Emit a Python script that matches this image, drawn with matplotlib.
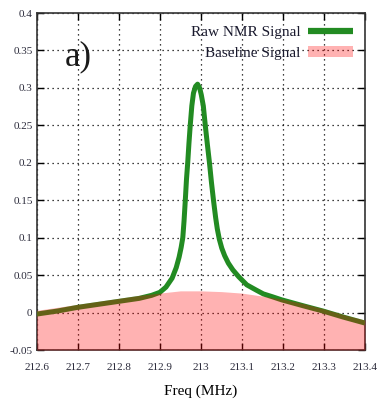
import numpy as np
import matplotlib
matplotlib.use('Agg')
import matplotlib.pyplot as plt

# Raw NMR signal, read point by point (freq in MHz, signal)
raw_freq = [212.600, 212.650, 212.700, 212.750, 212.800, 212.850, 212.880, 212.900,
            212.915, 212.930, 212.940, 212.947, 212.952, 212.956, 212.959, 212.962,
            212.965, 212.968, 212.971, 212.974, 212.978, 212.982, 212.987, 212.992,
            212.997, 213.001, 213.006, 213.011, 213.016, 213.021, 213.026, 213.031,
            213.036, 213.040, 213.045, 213.051, 213.058, 213.067, 213.078, 213.092,
            213.112, 213.135, 213.152, 213.175, 213.197, 213.250, 213.298, 213.347,
            213.400]
raw_signal = [-0.002, 0.002, 0.007, 0.011, 0.015, 0.019, 0.023, 0.027,
              0.034, 0.046, 0.060, 0.074, 0.087, 0.100, 0.122, 0.149,
              0.178, 0.200, 0.226, 0.249, 0.276, 0.293, 0.302, 0.305,
              0.300, 0.291, 0.276, 0.249, 0.224, 0.200, 0.173, 0.149,
              0.127, 0.112, 0.098, 0.086, 0.076, 0.066, 0.057, 0.048,
              0.037, 0.030, 0.025, 0.021, 0.017, 0.009, 0.002, -0.006,
              -0.014]

# Baseline estimate
base_freq = [212.60, 212.65, 212.70, 212.75, 212.80, 212.85, 212.90, 212.95, 213.00,
             213.05, 213.10, 213.15, 213.20, 213.25, 213.30, 213.35, 213.40]
base_signal = [0.003, 0.007, 0.011, 0.015, 0.019, 0.023, 0.026, 0.029, 0.029,
               0.028, 0.026, 0.022, 0.018, 0.012, 0.005, -0.003, -0.010]

xticks = [212.6, 212.7, 212.8, 212.9, 213.0, 213.1, 213.2, 213.3, 213.4]
xticklabels = ['212.6', '212.7', '212.8', '212.9', '213', '213.1', '213.2', '213.3', '213.4']
yticks = [-0.05, 0, 0.05, 0.1, 0.15, 0.2, 0.25, 0.3, 0.35, 0.4]
yticklabels = ['-0.05', '0', '0.05', '0.1', '0.15', '0.2', '0.25', '0.3', '0.35', '0.4']

plt.rcParams['font.family'] = ['Liberation Serif', 'DejaVu Serif']

fig = plt.figure(figsize=(3.8, 4.07), dpi=100)
ax = fig.add_axes([0.0966, 0.140, 0.8639, 0.828])

ax.plot(raw_freq, raw_signal, color='#228b22', lw=3.6, label='Raw NMR Signal',
        solid_joinstyle='round', solid_capstyle='butt', zorder=3)
ax.fill_between(base_freq, -0.05, base_signal, color=(1, 0, 0), alpha=0.3, lw=0,
                label='Baseline Signal', zorder=4)

ax.set_xlim(212.6, 213.4)
ax.set_ylim(-0.05, 0.4)
ax.set_xticks(xticks)
ax.set_xticklabels(xticklabels)
ax.set_yticks(yticks)
ax.set_yticklabels(yticklabels)
ax.tick_params(direction='in', length=5, width=1, top=True, right=True,
               labelsize=8, labelcolor='#2a2a3a')
ax.tick_params(axis='x', pad=9)
ax.tick_params(axis='y', pad=3)
ax.grid(True, color='black', linestyle=(0, (1, 3)), lw=0.9)
ax.set_axisbelow(True)
for s in ax.spines.values():
    s.set_color('#333333')
    s.set_linewidth(1.2)

ax.set_xlabel('Freq (MHz)', fontsize=11, labelpad=9)
ax.text(0.085, 0.845, 'a)', transform=ax.transAxes, fontsize=25, color='#1a1a1a')

leg = ax.legend(loc='upper right', frameon=False, markerfirst=False, fontsize=11,
                handlelength=2.9, handletextpad=0.5, labelspacing=0.45,
                borderaxespad=0.35, borderpad=0.45)
for t in leg.get_texts():
    t.set_color('#1a1a2e')
leg.legend_handles[0].set_linewidth(4.5)

fig.savefig('out.png', dpi=100)
